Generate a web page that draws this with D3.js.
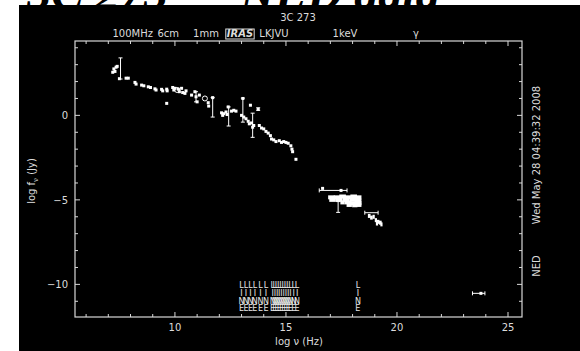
<!DOCTYPE html>
<html>
<head>
<meta charset="utf-8">
<script src="https://cdn.jsdelivr.net/npm/d3@7"></script>
<style>
  body { margin: 0; background: #fff; }
  svg { display: block; }
  .tk line, .tk path { stroke: #d8d8d8; }
  .lbl { fill: #dcdcdc; font-family: "DejaVu Sans", sans-serif; font-size: 10px; }
</style>
</head>
<body>
<div id="chart"></div>
<script>
// log nu (Hz) / log f_nu (Jy) photometry
const nu = [7.2, 7.25, 7.3, 7.35, 7.4, 7.5, 7.8, 7.9, 8.2, 8.25, 8.5, 8.6, 8.8, 8.9, 9.1, 9.15, 9.4, 9.45,
  9.63, 9.65, 9.9, 9.95, 10.0, 10.15, 10.2, 10.3, 10.35, 10.45, 10.5, 9.63, 10.75, 10.9, 10.95, 11.0,
  11.1, 11.5, 11.52, 11.7, 12.1, 12.15, 12.2, 12.3, 12.35, 12.4, 12.55, 12.65, 12.75, 13.0, 13.06,
  13.1, 13.2, 13.3, 13.35, 13.4, 13.45, 13.5, 13.55, 13.75, 13.8, 13.9, 14.0, 14.1, 14.2, 14.3, 14.35,
  14.45, 14.55, 14.7, 14.8, 14.9, 15.0, 15.1, 15.22, 15.27, 15.3, 15.45, 16.65, 17.48, 23.78];
const logF = [2.55, 2.75, 2.6, 2.85, 2.9, 2.17, 2.2, 2.2, 1.95, 1.85, 1.79, 1.75, 1.69, 1.65, 1.57, 1.5, 1.54, 1.45,
  1.55, 1.45, 1.65, 1.5, 1.6, 1.55, 1.4, 1.6, 1.35, 1.3, 1.45, 0.71, 1.2, 1.4, 1.1, 0.8,
  1.2, 0.75, 0.55, 1.05, 0.15, 0.0, 0.1, 0.2, 0.05, 0.5, 0.25, 0.3, 0.25, 0.0, 1.0,
  -0.1, -0.2, -0.35, -0.5, 0.6, -0.45, -0.7, -0.6, 0.35, -0.6, -0.75, -0.8, -0.95, -1.05, -1.2, -1.4,
  -1.45, -1.55, -1.5, -1.6, -1.55, -1.6, -1.65, -1.8, -2.0, -2.15, -2.6, -4.32, -4.44, -10.53];

// open circle points
const openNu = [11.35, 10.1];
const openF = [1.0, 1.5];

// X-ray spectrum points with horizontal bars [nu, logF, halfwidth]
const xray = [[17.05, -4.85, 0.15], [17.3, -4.85, 0.15], [17.55, -4.8, 0.15], [17.8, -4.85, 0.15],
  [18.05, -4.8, 0.15], [18.25, -4.85, 0.15], [17.1, -5.0, 0.15], [17.4, -5.0, 0.15], [17.7, -5.0, 0.15],
  [18.0, -5.0, 0.15], [18.25, -5.05, 0.15], [17.8, -5.15, 0.15], [18.05, -5.2, 0.15], [18.25, -5.2, 0.15],
  [17.85, -5.3, 0.12], [18.1, -5.32, 0.12], [18.3, -5.3, 0.1], [17.55, -5.15, 0.1],
  [18.75, -5.95, 0.06], [18.85, -6.05, 0.06], [18.95, -6.0, 0.05],
  [19.05, -6.2, 0.05], [19.15, -6.3, 0.06], [19.25, -6.35, 0.06], [19.3, -6.45, 0.05], [19.1, -6.4, 0.05]];

// vertical error bars [nu, low, high]
const vBars = [[7.55, 2.15, 3.4], [10.95, 0.8, 1.4], [11.7, -0.1, 1.05], [12.42, -0.63, 0.5],
  [13.06, -0.4, 1.02], [13.5, -1.3, 0.13], [13.75, 0.3, 0.45], [17.35, -5.74, -5.1]];

// horizontal error bars [logF, nuLow, nuHigh]
const hBars = [[-4.44, 16.5, 17.75], [-5.76, 18.55, 19.15], [-10.53, 23.4, 23.96]];

// line measurements (LINE markers along the bottom)
const lineNu = [13.0, 13.2, 13.4, 13.6, 13.85, 14.1, 14.4, 14.5, 14.6, 14.7, 14.8, 14.9, 15.0,
  15.1, 15.2, 15.35, 15.5, 18.24];

const xTicks = [10, 15, 20, 25];
const yTicks = [-10, -5, 0];

const topLabels = [
  { t: "100MHz", nu: 8.1 },
  { t: "6cm", nu: 9.7 },
  { t: "1mm", nu: 11.4 },
  { t: "IRAS", nu: 12.93, box: true },
  { t: "LKJVU", nu: 14.46 },
  { t: "1keV", nu: 17.66 },
  { t: "γ", nu: 20.86 }
];

const W = 580, H = 351;
const svg = d3.select("#chart").append("svg").attr("width", W).attr("height", H);

// big cropped title
svg.append("text")
  .attr("x", 27).attr("y", 9)
  .attr("textLength", 413).attr("lengthAdjust", "spacingAndGlyphs")
  .style("font-family", "'Liberation Serif', serif")
  .style("font-weight", "bold").style("font-style", "italic")
  .style("font-size", "44px").attr("fill", "#000")
  .text("3C 273 — NED data");

svg.append("rect").attr("x", 19).attr("y", 5).attr("width", W - 19).attr("height", H - 5).attr("fill", "#000");

const x = d3.scaleLinear().domain([5.5, 25.63]).range([75, 522]);
const y = d3.scaleLinear().domain([-11.93, 4.4]).range([317, 41]);

const minorX = d3.range(6, 26);
const minorY = d3.range(-11, 5);

function tickLen(v) { return v % 5 === 0 ? 5 : 3; }

// frame
svg.append("rect").attr("x", 75).attr("y", 41).attr("width", 447).attr("height", 276)
  .attr("fill", "none").attr("stroke", "#d8d8d8").attr("stroke-width", 1.2);

const g = svg.append("g").attr("class", "tk").attr("stroke-width", 1);
g.selectAll(".xb").data(minorX).join("line")
  .attr("x1", d => x(d)).attr("x2", d => x(d))
  .attr("y1", 317).attr("y2", d => 317 - tickLen(d));
g.selectAll(".xt").data(minorX).join("line")
  .attr("x1", d => x(d)).attr("x2", d => x(d))
  .attr("y1", 41).attr("y2", d => 41 + tickLen(d));
g.selectAll(".yl").data(minorY).join("line")
  .attr("y1", d => y(d)).attr("y2", d => y(d))
  .attr("x1", 75).attr("x2", d => 75 + tickLen(d));
g.selectAll(".yr").data(minorY).join("line")
  .attr("y1", d => y(d)).attr("y2", d => y(d))
  .attr("x1", 522).attr("x2", d => 522 - tickLen(d));

const fmt = d3.format("d");
svg.selectAll(".xl").data(xTicks).join("text").attr("class", "lbl")
  .attr("x", d => x(d)).attr("y", 331).attr("text-anchor", "middle").text(fmt);
svg.selectAll(".ylb").data(yTicks).join("text").attr("class", "lbl")
  .attr("x", 68).attr("y", d => y(d) + 4).attr("text-anchor", "end").text(fmt);

svg.append("text").attr("class", "lbl").attr("x", 299).attr("y", 345).attr("text-anchor", "middle")
  .text("log ν (Hz)");

const yl = svg.append("text").attr("class", "lbl")
  .attr("transform", "translate(35,181) rotate(-90)").attr("text-anchor", "middle");
yl.append("tspan").text("log f");
yl.append("tspan").attr("dy", 3).style("font-size", "7px").text("ν");
yl.append("tspan").attr("dy", -3).text(" (Jy)");

svg.append("text").attr("class", "lbl").attr("x", 298).attr("y", 21).attr("text-anchor", "middle").text("3C 273");

svg.append("text").attr("class", "lbl").attr("transform", "translate(540,155) rotate(-90)")
  .attr("text-anchor", "middle").text("Wed May 28 04:39:32 2008");
svg.append("text").attr("class", "lbl").attr("transform", "translate(540,266) rotate(-90)")
  .attr("text-anchor", "middle").text("NED");

// band labels along the top
topLabels.forEach(d => {
  const t = svg.append("text").attr("class", "lbl").attr("x", x(d.nu)).attr("y", 37)
    .attr("text-anchor", "middle").text(d.t);
  if (d.box) {
    t.style("font-style", "italic").style("font-weight", "bold");
    const b = t.node().getBBox();
    svg.append("rect").attr("x", b.x - 1).attr("y", 29).attr("width", b.width + 2).attr("height", 10)
      .attr("fill", "none").attr("stroke", "#dcdcdc");
  }
});

// LINE markers
const letters = ["L", "I", "N", "E"];
lineNu.forEach(v => {
  letters.forEach((c, i) => {
    svg.append("text").attr("x", x(v)).attr("y", 288 + i * 7.8).attr("text-anchor", "middle")
      .attr("fill", "#e8e8e8").style("font-family", "'DejaVu Sans', sans-serif").style("font-size", "8px")
      .text(c);
  });
});

const pts = svg.append("g").attr("stroke", "#fff").attr("fill", "#fff");

// error bars
pts.selectAll(".vb").data(vBars).join("path")
  .attr("fill", "none").attr("stroke-width", 1)
  .attr("d", d => {
    const cx = x(d[0]), y0 = y(d[1]), y1 = y(d[2]);
    return `M${cx},${y0}V${y1}M${cx - 2},${y0}H${cx + 2}M${cx - 2},${y1}H${cx + 2}`;
  });
pts.selectAll(".hb").data(hBars).join("path")
  .attr("fill", "none").attr("stroke-width", 1)
  .attr("d", d => {
    const cy = y(d[0]), x0 = x(d[1]), x1 = x(d[2]);
    return `M${x0},${cy}H${x1}M${x0},${cy - 2}V${cy + 2}M${x1},${cy - 2}V${cy + 2}`;
  });
pts.selectAll(".xr").data(xray).join("path")
  .attr("fill", "none").attr("stroke-width", 4)
  .attr("d", d => `M${x(d[0] - d[2])},${y(d[1])}H${x(d[0] + d[2])}`);

pts.selectAll(".p").data(nu).join("rect")
  .attr("stroke", "none")
  .attr("x", d => x(d) - 1.5).attr("y", (d, i) => y(logF[i]) - 1.5)
  .attr("width", 3).attr("height", 3);

pts.selectAll(".o").data(openNu).join("circle")
  .attr("fill", "none").attr("stroke-width", 1)
  .attr("cx", d => x(d)).attr("cy", (d, i) => y(openF[i])).attr("r", 2.5);
</script>
</body>
</html>
